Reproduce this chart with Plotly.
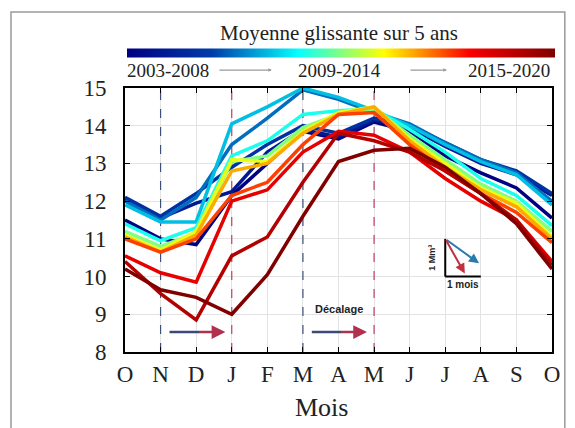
import plotly.graph_objects as go
from plotly.colors import sample_colorscale

# ── data ────────────────────────────────────────────────────────────────────

MONTHS = ["O", "N", "D", "J", "F", "M", "A", "M", "J", "J", "A", "S", "O"]
WINDOWS = [f"{y}-{y + 5}" for y in range(2003, 2016)]

w2003 = [11.5, 11.0, 10.85, 12.15, 13.0, 13.85, 13.65, 14.1, 13.85, 13.2, 12.75, 12.35, 11.55]
w2004 = [12.05, 11.55, 11.95, 12.25, 13.3, 13.9, 13.7, 14.15, 13.95, 13.45, 13.0, 12.7, 12.15]
w2005 = [12.1, 11.6, 12.2, 12.9, 13.5, 14.0, 13.8, 14.2, 14.0, 13.55, 13.1, 12.8, 12.2]
w2006 = [12.0, 11.5, 12.1, 13.5, 14.2, 14.95, 14.7, 14.35, 14.05, 13.55, 13.1, 12.75, 12.0]
w2007 = [11.9, 11.45, 11.45, 14.05, 14.5, 15.0, 14.75, 14.4, 14.0, 13.5, 13.05, 12.7, 11.9]
w2008 = [11.4, 10.95, 11.3, 13.2, 13.6, 14.3, 14.4, 14.45, 13.9, 13.3, 12.6, 12.15, 11.35]
w2009 = [11.2, 10.8, 11.15, 13.05, 13.2, 13.95, 14.3, 14.45, 13.75, 13.1, 12.45, 12.0, 11.2]
w2010 = [11.1, 10.7, 11.2, 13.1, 13.05, 13.85, 14.35, 14.5, 13.65, 13.0, 12.35, 11.95, 11.05]
w2011 = [11.05, 10.65, 11.1, 12.8, 13.0, 13.8, 14.3, 14.5, 13.6, 12.9, 12.3, 11.85, 11.0]
w2012 = [11.0, 10.65, 11.0, 12.15, 12.5, 13.5, 14.3, 14.35, 13.5, 12.8, 12.2, 11.7, 10.9]
w2013 = [10.55, 10.1, 9.85, 12.0, 12.3, 13.3, 13.85, 13.75, 13.3, 12.6, 12.0, 11.5, 10.4]
w2014 = [10.4, 9.55, 8.85, 10.55, 11.05, 12.5, 13.8, 13.6, 13.3, 12.8, 12.2, 11.5, 10.3]
w2015 = [10.2, 9.65, 9.45, 9.0, 10.05, 11.6, 13.05, 13.35, 13.4, 12.9, 12.2, 11.4, 10.2]

SERIES = [w2003, w2004, w2005, w2006, w2007, w2008, w2009,
          w2010, w2011, w2012, w2013, w2014, w2015]

YTICKS = list(range(8, 16))

# ── figure ──────────────────────────────────────────────────────────────────

SERIF = "Liberation Serif, Times New Roman, serif"
SANS = "Liberation Sans, Arial, sans-serif"
TXT = "#222222"

colors = sample_colorscale("Jet", [i / (len(SERIES) - 1) for i in range(len(SERIES))])
x_idx = list(range(len(MONTHS)))

fig = go.Figure()

for name, vals, col in zip(WINDOWS, SERIES, colors):
    fig.add_trace(go.Scatter(
        x=x_idx, y=vals, mode="lines", name=name,
        line=dict(color=col, width=3.5),
        showlegend=False,
        hovertemplate=f"<b>{name}</b><br>%{{y}}<extra></extra>",
    ))

# dummy trace carrying the colour bar at the top
fig.add_trace(go.Scatter(
    x=[None], y=[None], mode="markers", showlegend=False, hoverinfo="skip",
    marker=dict(
        color=[0, 1], colorscale="Jet", cmin=0, cmax=1, showscale=True,
        colorbar=dict(
            orientation="h", thickness=9, lenmode="pixels", len=428,
            x=0.506, xanchor="center", y=1.134, yanchor="middle",
            xpad=0, ypad=0, outlinewidth=0, showticklabels=False, ticks="",
        ),
    ),
))

# vertical dashed reference lines (decalage)
for xv, col in [(1, "#3d4f7c"), (3, "#c0405e"), (5, "#3d4f7c"), (7, "#c0405e")]:
    fig.add_shape(type="line", xref="x", yref="y", x0=xv, x1=xv, y0=8, y1=15,
                  line=dict(color=col, width=1.2, dash="dash"), layer="between")

# shift arrows
for x0, x1 in [(1.25, 2.82), (5.25, 6.8)]:
    xm = (x0 + x1) / 2
    fig.add_shape(type="line", xref="x", yref="y", x0=x0, x1=xm + 0.05, y0=8.53, y1=8.53,
                  line=dict(color="#3a4a78", width=2.5))
    fig.add_annotation(x=x1, y=8.53, ax=xm, ay=8.53, axref="x", ayref="y", xref="x", yref="y",
                       text="", showarrow=True, arrowhead=2, arrowsize=1.1, arrowwidth=2.5,
                       arrowcolor="#b0304e")
fig.add_annotation(x=6.0, y=9.13, xref="x", yref="y", text="<b>Décalage</b>", showarrow=False,
                   font=dict(family=SANS, size=11, color=TXT))

# scale triangle (1 Mm3 / 1 mois)
fig.add_shape(type="line", xref="x", yref="y", x0=9, x1=9, y0=11, y1=10,
              line=dict(color="black", width=2))
fig.add_shape(type="line", xref="x", yref="y", x0=9, x1=10, y0=10, y1=10,
              line=dict(color="black", width=2))
fig.add_annotation(x=9.95, y=10.35, ax=9, ay=11, axref="x", ayref="y", xref="x", yref="y",
                   text="", showarrow=True, arrowhead=2, arrowsize=1, arrowwidth=2,
                   arrowcolor="#2a7aac")
fig.add_annotation(x=9.55, y=10.08, ax=9, ay=11, axref="x", ayref="y", xref="x", yref="y",
                   text="", showarrow=True, arrowhead=2, arrowsize=1, arrowwidth=2,
                   arrowcolor="#c0303e")
fig.add_annotation(x=8.63, y=10.5, xref="x", yref="y", text="<b>1 Mm³</b>", textangle=-90,
                   showarrow=False, font=dict(family=SANS, size=9, color=TXT))
fig.add_annotation(x=9.5, y=9.78, xref="x", yref="y", text="<b>1 mois</b>",
                   showarrow=False, font=dict(family=SANS, size=10, color=TXT))

# colour bar title and period labels
fig.add_annotation(x=0.5, y=1.208, xref="paper", yref="paper", text="Moyenne glissante sur 5 ans",
                   xanchor="center", yanchor="middle",
                   showarrow=False, font=dict(family=SERIF, size=21, color=TXT))
for txt, xp, anchor in [(WINDOWS[0], 0.0, "left"), (WINDOWS[6], 0.503, "center"),
                        (WINDOWS[-1], 1.0, "right")]:
    fig.add_annotation(x=xp, y=1.068, xref="paper", yref="paper", text=txt,
                       xanchor=anchor, yanchor="middle",
                       showarrow=False, font=dict(family=SERIF, size=19, color=TXT))
for xh, length in [(0.344, 54), (0.754, 38)]:
    fig.add_annotation(x=xh, y=1.068, xref="paper", yref="paper", text="", ax=-length, ay=0,
                       showarrow=True, arrowhead=2, arrowsize=0.6, arrowwidth=1.2,
                       arrowcolor="#9a9a9a")

fig.add_annotation(x=0.461, y=-0.212, xref="paper", yref="paper", text="Mois",
                   xanchor="center", yanchor="middle",
                   showarrow=False, font=dict(family=SERIF, size=26, color=TXT))

# outer frame of the picture
fig.add_shape(type="rect", xref="paper", yref="paper", x0=-0.267, x1=1.03, y0=-0.4, y1=1.288,
              line=dict(color="#9a9a9a", width=1.5))

fig.update_layout(
    width=575, height=428,
    paper_bgcolor="white", plot_bgcolor="white",
    margin=dict(l=125, r=23, t=88, b=76),
    font=dict(family=SERIF, color=TXT),
    xaxis=dict(
        range=[0, 12], tickmode="array", tickvals=x_idx, ticktext=MONTHS,
        showgrid=True, gridcolor="#e3e3e3", gridwidth=1,
        showline=True, linecolor="black", linewidth=2, mirror="ticks",
        ticks="inside", ticklen=5, tickcolor="black",
        tickfont=dict(family=SERIF, size=23, color=TXT), ticklabelstandoff=0,
        zeroline=False,
    ),
    yaxis=dict(
        range=[8, 15], tickmode="array", tickvals=YTICKS,
        showgrid=True, gridcolor="#e3e3e3", gridwidth=1,
        showline=True, linecolor="black", linewidth=2, mirror="ticks",
        ticks="inside", ticklen=5, tickcolor="black",
        tickfont=dict(family=SERIF, size=23, color=TXT), ticklabelstandoff=12,
        zeroline=False,
    ),
)

fig.write_html("out.html", config={"displayModeBar": False},
               post_script="document.body.style.margin='0px';")
